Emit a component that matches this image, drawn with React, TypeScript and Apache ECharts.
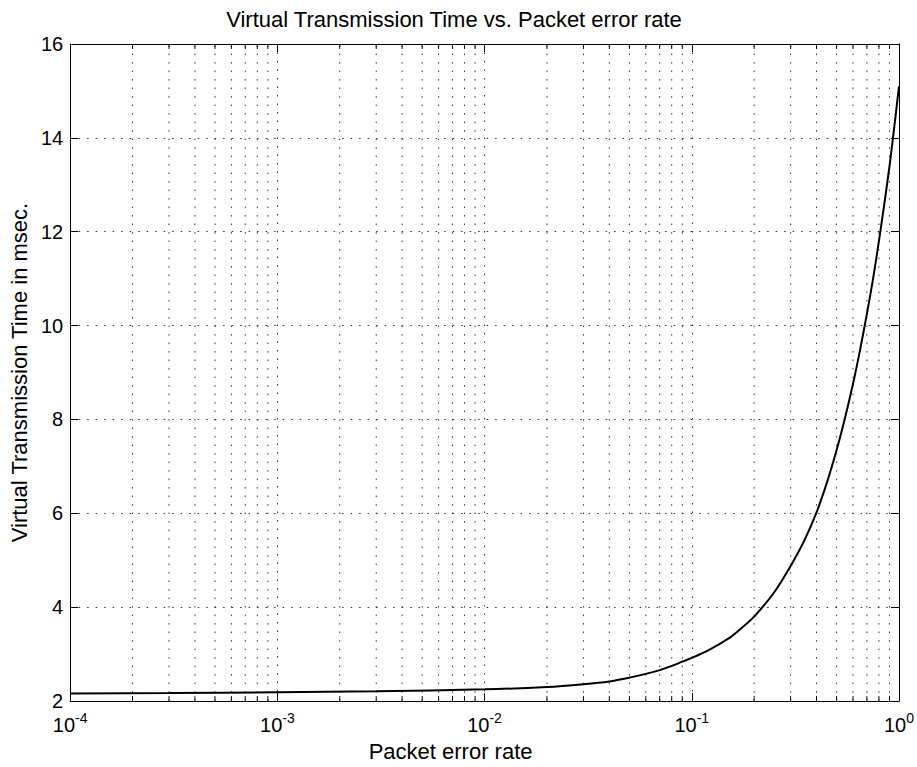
import React, { useEffect, useRef } from "react";
import * as echarts from "echarts";

const errorRate = [
  1e-4, 3e-4, 1e-3, 3e-3, 1e-2, 0.02, 0.03, 0.04, 0.05, 0.06, 0.07, 0.08, 0.09,
  0.1, 0.12, 0.15, 0.17, 0.2, 0.25, 0.3, 0.35, 0.4, 0.45, 0.5, 0.55, 0.6, 0.65,
  0.7, 0.75, 0.8, 0.85, 0.9, 0.95, 1.0,
];
const transTime = [
  2.16, 2.17, 2.19, 2.21, 2.25, 2.3, 2.36, 2.42, 2.5, 2.58, 2.66, 2.75, 2.84,
  2.92, 3.08, 3.33, 3.52, 3.8, 4.32, 4.88, 5.43, 6.02, 6.67, 7.35, 8.05, 8.76, 9.5,
  10.25, 11.0, 11.8, 12.6, 13.4, 14.25, 15.1,
];
const minorX = [
  2e-4, 3e-4, 4e-4, 5e-4, 6e-4, 7e-4, 8e-4, 9e-4,
  2e-3, 3e-3, 4e-3, 5e-3, 6e-3, 7e-3, 8e-3, 9e-3,
  2e-2, 3e-2, 4e-2, 5e-2, 6e-2, 7e-2, 8e-2, 9e-2,
  0.2, 0.3, 0.4, 0.5, 0.6, 0.7, 0.8, 0.9,
];
const xMin = 1e-4;
const xMax = 1;
const yMin = 2;
const yMax = 16;
const yStep = 2;

const FONT = "'Liberation Sans', Arial, Helvetica, sans-serif";
const FS = 20;
const FS_LABEL = 22;
const DOT = [1.5, 7];

export default function App() {
  const ref = useRef<HTMLDivElement>(null);
  useEffect(() => {
    const chart = echarts.init(ref.current!, null, { renderer: "svg" });
    chart.setOption({
      animation: false,
      backgroundColor: "#fff",
      textStyle: { fontFamily: FONT },
      title: {
        text: "Virtual Transmission Time vs. Packet error rate",
        left: 449,
        top: 3,
        textAlign: "center",
        textStyle: { fontFamily: FONT, fontSize: FS_LABEL, fontWeight: "normal", color: "#000" },
      },
      grid: { left: 67, right: 18, top: 44, bottom: 63, containLabel: false },
      xAxis: [
        {
          type: "log",
          logBase: 10,
          min: xMin,
          max: xMax,
          name: "Packet error rate",
          nameLocation: "middle",
          nameGap: 37,
          nameTextStyle: { fontFamily: FONT, fontSize: FS_LABEL, color: "#000", padding: [0, 68, 0, 0] },
          axisLine: { show: true, onZero: false, lineStyle: { color: "#000", width: 1 } },
          axisTick: { show: true, inside: true, length: 8, lineStyle: { color: "#000" } },
          axisLabel: {
            margin: 10,
            color: "#000",
            formatter: (v: number) => `{b|10}{s|${Math.round(Math.log10(v))}}`,
            rich: {
              b: { fontFamily: FONT, fontSize: FS, color: "#000", lineHeight: 28 },
              s: { fontFamily: FONT, fontSize: 14, color: "#000", verticalAlign: "top", lineHeight: 14 },
            },
          },
          splitLine: { show: true, lineStyle: { color: "#333", type: DOT, width: 1 } },
        },
        {
          type: "log",
          logBase: 10,
          min: xMin,
          max: xMax,
          position: "top",
          axisLine: { show: true, onZero: false, lineStyle: { color: "#000", width: 1 } },
          axisTick: { show: true, inside: true, length: 8, lineStyle: { color: "#000" } },
          axisLabel: { show: false },
          splitLine: { show: false },
        },
      ],
      yAxis: [
        {
          type: "value",
          min: yMin,
          max: yMax,
          interval: yStep,
          name: "Virtual Transmission Time in msec.",
          nameLocation: "middle",
          nameGap: 36,
          nameTextStyle: { fontFamily: FONT, fontSize: FS_LABEL, color: "#000" },
          axisLine: { show: true, onZero: false, lineStyle: { color: "#000", width: 1 } },
          axisTick: { show: true, inside: true, length: 8, lineStyle: { color: "#000" } },
          axisLabel: { margin: 7, color: "#000", fontFamily: FONT, fontSize: FS },
          splitLine: { show: true, lineStyle: { color: "#333", type: DOT, width: 1 } },
        },
        {
          type: "value",
          min: yMin,
          max: yMax,
          interval: yStep,
          position: "right",
          axisLine: { show: true, onZero: false, lineStyle: { color: "#000", width: 1 } },
          axisTick: { show: true, inside: true, length: 8, lineStyle: { color: "#000" } },
          axisLabel: { show: false },
          splitLine: { show: false },
        },
      ],
      series: [
        {
          type: "custom",
          xAxisIndex: 0,
          yAxisIndex: 0,
          silent: true,
          z: 1,
          data: minorX.map((v) => [v, yMin]),
          encode: { x: 0, y: 1 },
          renderItem: (params: any, api: any) => {
            const v = api.value(0);
            const b = api.coord([v, yMin]);
            const t = api.coord([v, yMax]);
            return {
              type: "group",
              children: [
                {
                  type: "line",
                  shape: { x1: b[0], y1: b[1], x2: t[0], y2: t[1] },
                  style: { stroke: "#333", lineWidth: 1, lineDash: DOT },
                },
                {
                  type: "line",
                  shape: { x1: b[0], y1: b[1], x2: b[0], y2: b[1] - 5 },
                  style: { stroke: "#000", lineWidth: 1 },
                },
                {
                  type: "line",
                  shape: { x1: t[0], y1: t[1], x2: t[0], y2: t[1] + 5 },
                  style: { stroke: "#000", lineWidth: 1 },
                },
              ],
            };
          },
        },
        {
          type: "line",
          xAxisIndex: 0,
          yAxisIndex: 0,
          z: 5,
          data: errorRate.map((x, i) => [x, transTime[i]]),
          showSymbol: false,
          smooth: 0.3,
          lineStyle: { color: "#000", width: 2 },
        },
      ],
    });
    return () => chart.dispose();
  }, []);
  return (
    <div
      ref={ref}
      style={{ position: "fixed", left: 0, top: 0, width: 917, height: 767, background: "#fff" }}
    />
  );
}
